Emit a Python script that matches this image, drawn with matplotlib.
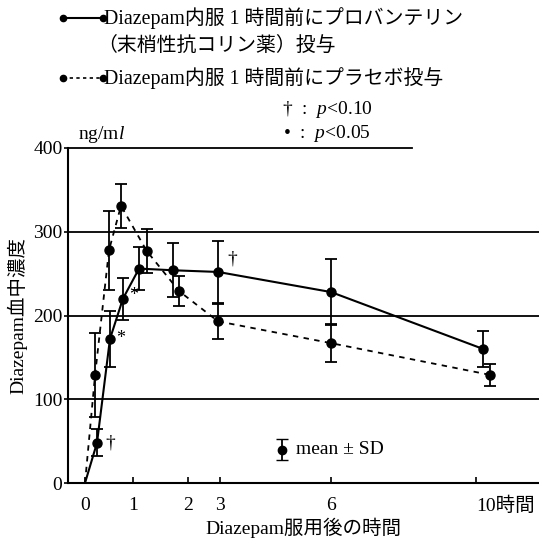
import numpy as np
import matplotlib
matplotlib.use('Agg')
from matplotlib import pyplot as plt
from matplotlib.lines import Line2D

FONT = ['Liberation Serif', 'Noto Sans CJK JP']
plt.rcParams['font.family'] = FONT
plt.rcParams['mathtext.fontset'] = 'custom'
plt.rcParams['mathtext.rm'] = 'Liberation Serif'
plt.rcParams['mathtext.it'] = 'Liberation Serif:italic'

# hand-drawn time axis: hour -> relative position
axis_hours = [-0.36, 0, 1, 2, 3, 6, 10, 11.74]
axis_pos = [68, 85, 133, 188, 220, 331, 476, 539]

tick_hours = [0, 1, 2, 3, 6, 10]
tick_labels = ['0', '1', '2', '3', '6', '10時間']

# プロバンテリン投与群 (solid)
t_pro = [0, 0.25, 0.52, 0.79, 1.11, 1.73, 2.94, 6, 10.2]
c_pro = [0, 48, 172, 220, 256, 254, 252, 228, 160]
sd_pro = [0, 16, 33, 25, 26, 32, 37, 39, 22]

# プラセボ投与群 (dashed)
t_pla = [0, 0.21, 0.5, 0.75, 1.25, 1.84, 2.94, 6, 10.4]
c_pla = [0, 129, 278, 331, 277, 229, 193, 167, 129]
sd_pla = [0, 50, 47, 26, 26, 18, 21, 23, 13]


def fwd(x):
    return np.interp(x, axis_hours, axis_pos)


def inv(x):
    return np.interp(x, axis_pos, axis_hours)


def main():
    fig = plt.figure(figsize=(5.39, 5.43), dpi=100)
    ax = fig.add_axes([68 / 539, 60 / 543, 471 / 539, 335 / 543])
    ax.set_xscale('function', functions=(fwd, inv))
    ax.set_xlim(axis_hours[0], axis_hours[-1])
    ax.set_ylim(0, 400)

    for yv in [100, 200, 300]:
        ax.axhline(yv, color='black', lw=1.3, zorder=1)
    ax.axhline(400, xmax=0.73, color='black', lw=1.3, zorder=1, clip_on=False)

    ax.plot(t_pro, c_pro, color='black', lw=1.5, zorder=3)
    ax.plot(t_pla, c_pla, color='black', lw=1.3, ls=(0, (3, 3)), zorder=3)
    ax.errorbar(t_pro[1:], c_pro[1:], yerr=sd_pro[1:], fmt='o', color='black',
                ms=6.5, capsize=4.5, elinewidth=1.3, capthick=1.3, zorder=4, clip_on=False)
    ax.errorbar(t_pla[1:], c_pla[1:], yerr=sd_pla[1:], fmt='o', color='black',
                ms=6.5, capsize=4.5, elinewidth=1.3, capthick=1.3, zorder=4, clip_on=False)

    # significance marks
    ax.text(t_pro[1] + 0.18, c_pro[1], '†', fontsize=14, va='center', ha='left')
    ax.text(t_pro[2] + 0.12, c_pro[2], '*', fontsize=13, va='center', ha='left')
    ax.text(t_pro[3] + 0.12, c_pro[3] + 4, '*', fontsize=13, va='center', ha='left')
    ax.text(t_pro[6] + 0.25, c_pro[6] + 15, '†', fontsize=14, va='center', ha='left')

    for s in ['top', 'right']:
        ax.spines[s].set_visible(False)
    for s in ['left', 'bottom']:
        ax.spines[s].set_linewidth(1.5)

    ax.set_xticks(tick_hours)
    ax.set_xticklabels(tick_labels, fontsize=14)
    ax.get_xticklabels()[-1].set_ha('left')
    ax.tick_params(axis='x', direction='in', length=4, width=1.2, pad=10)
    ax.set_yticks([0, 100, 200, 300, 400])
    ax.set_yticklabels(['0', '100', '200', '300', '400'], fontsize=14)
    ax.tick_params(axis='y', direction='out', length=3, width=1.2, pad=1)

    ax.set_xlabel('Diazepam服用後の時間', fontsize=14, labelpad=2)
    ax.set_ylabel('Diazepam血中濃度', fontsize=14, labelpad=4)

    # mean ± SD key
    ax.errorbar([0.454], [0.10], yerr=[0.03], fmt='o', color='black', ms=6,
                capsize=4, elinewidth=1.3, transform=ax.transAxes)
    ax.text(0.485, 0.10, 'mean ± SD', fontsize=14, va='center', transform=ax.transAxes)

    ax.text(10 / 471, 1.01, 'ng/m$\\it{l}$', fontsize=14,
            transform=ax.transAxes, va='bottom', ha='left')

    # legend at top
    W, H = 539.0, 543.0
    fig.add_artist(Line2D([63 / W, 103 / W], [1 - 18 / H, 1 - 18 / H], color='black',
                          lw=1.5, marker='o', ms=4.5))
    fig.text(104 / W, 1 - 18 / H, 'Diazepam内服 1 時間前にプロバンテリン', fontsize=14.3,
             va='center', ha='left')
    fig.text(97 / W, 1 - 46 / H, '（末梢性抗コリン薬）投与', fontsize=14.3,
             va='center', ha='left')
    fig.add_artist(Line2D([63 / W, 103 / W], [1 - 78 / H, 1 - 78 / H], color='black',
                          lw=1.2, ls=(0, (2, 2)), marker='o', ms=4.5))
    fig.text(104 / W, 1 - 78 / H, 'Diazepam内服 1 時間前にプラセボ投与', fontsize=14.3,
             va='center', ha='left')
    fig.text(282 / W, 1 - 110 / H, '†  :  $\\it{p}$<0.10', fontsize=14, va='center', ha='left')
    fig.text(283 / W, 1 - 133 / H, '•  :  $\\it{p}$<0.05', fontsize=14, va='center', ha='left')

    fig.savefig('out.png', dpi=100)


if __name__ == '__main__':
    main()
